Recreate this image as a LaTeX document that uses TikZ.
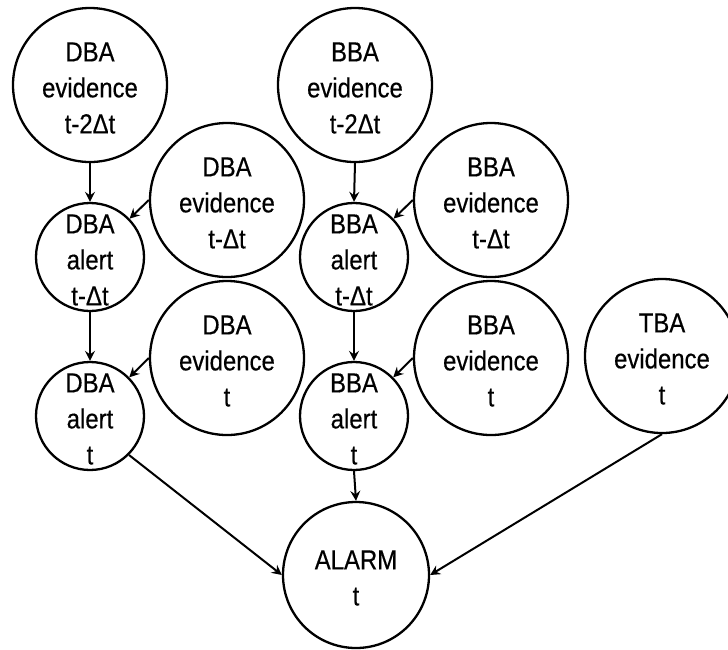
\documentclass[tikz,border=0pt]{standalone}
\usepackage{fontspec}
\setmainfont[FakeStretch=0.87,FakeBold=0.4]{Liberation Sans}
\usetikzlibrary{arrows.meta}
\begin{document}
\begin{tikzpicture}[x=1pt,y=-1pt,
  big/.style={circle,draw,line width=2.3pt,minimum size=154pt,inner sep=0pt},
  small/.style={circle,draw,line width=2.3pt,minimum size=108pt,inner sep=0pt},
  alarmnode/.style={circle,draw,line width=2.3pt,minimum size=146pt,inner sep=0pt},
  txt/.style={align=center,font=\fontsize{27.5}{36}\selectfont,inner sep=0pt,yshift=-3pt},
  link/.style={line width=2pt,-{Stealth[length=10pt,width=10pt,inset=3.5pt]}}]
\useasboundingbox (0,0) rectangle (728,649);

% evidence nodes
\node[big] (dE2) at (90,85) {};
\node[big] (bE2) at (355,85) {};
\node[big] (dE1) at (227,200) {};
\node[big] (bE1) at (491,200) {};
\node[big] (dE0) at (227,358) {};
\node[big] (bE0) at (491,358) {};
\node[big] (tE0) at (662,356) {};

% alert nodes
\node[small] (dA1) at (90,257) {};
\node[small] (bA1) at (354,257) {};
\node[small] (dA0) at (90,416) {};
\node[small] (bA0) at (354,416) {};

% final alarm
\node[alarmnode] (alarm) at (356,575) {};

% texts
\node[txt] (dE2t) at (dE2) {DBA\\evidence\\t-2Δt};
\node[txt] (bE2t) at (bE2) {BBA\\evidence\\t-2Δt};
\node[txt] (dE1t) at (dE1) {DBA\\evidence\\t-Δt};
\node[txt] (bE1t) at (bE1) {BBA\\evidence\\t-Δt};
\node[txt] (dE0t) at (dE0) {DBA\\evidence\\t};
\node[txt] (bE0t) at (bE0) {BBA\\evidence\\t};
\node[txt] (tE0t) at (tE0) {TBA\\evidence\\t};
\node[txt] (dA1t) at (dA1) {DBA\\alert\\t-Δt};
\node[txt] (bA1t) at (bA1) {BBA\\alert\\t-Δt};
\node[txt] (dA0t) at (dA0) {DBA\\alert\\t};
\node[txt] (bA0t) at (bA0) {BBA\\alert\\t};
\node[txt] (alarmt) at (alarm) {ALARM\\t};

% connectors
\draw[link] (dE2.south) -- (dA1.north);
\draw[link] (dE1.west) -- (dA1);
\draw[link] (dA1.south) -- (dA0.north);
\draw[link] (dE0.west) -- (dA0);
\draw[link] (bE2.south) -- (bA1.north);
\draw[link] (bE1.west) -- (bA1);
\draw[link] (bA1.south) -- (bA0.north);
\draw[link] (bE0.west) -- (bA0);
\draw[link] (bA0.south) -- (alarm.north);
\draw[link] (dA0.south east) -- (alarm.west);
\draw[link] (tE0.south) -- (alarm.east);
\end{tikzpicture}
\end{document}
